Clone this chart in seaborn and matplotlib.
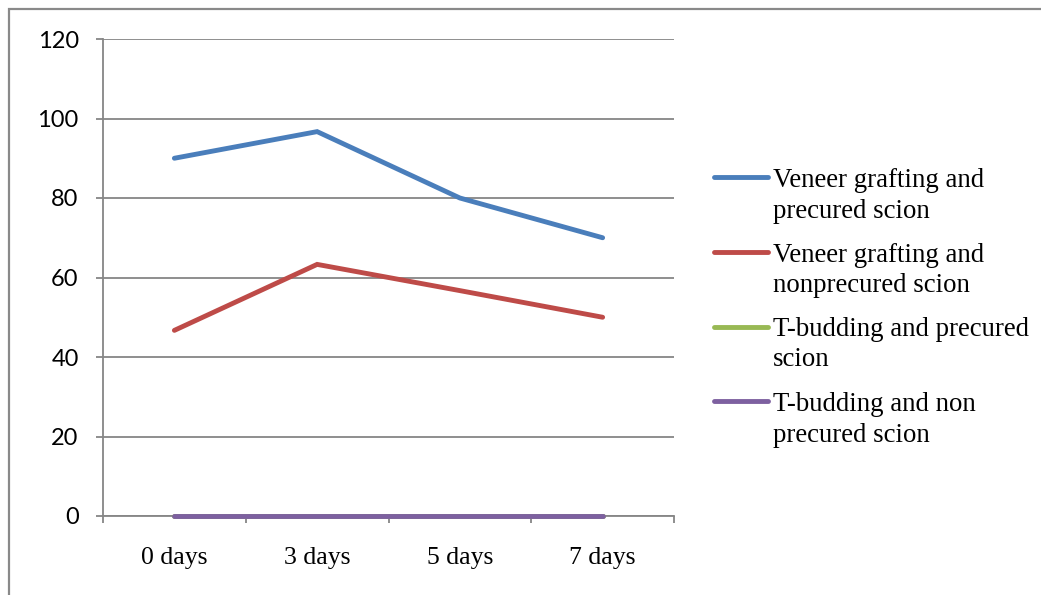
import matplotlib
matplotlib.use("Agg")
import matplotlib.pyplot as plt
from matplotlib.patches import Rectangle
from matplotlib.lines import Line2D
import seaborn as sns
import pandas as pd
import numpy as np

# Grafting success (%) after scion storage
days = ["0 days", "3 days", "5 days", "7 days"]
veneer_precured = [90, 96.7, 80, 70]
veneer_nonprecured = [46.7, 63.3, 56.7, 50]
tbud_precured = [0, 0, 0, 0]
tbud_nonprecured = [0, 0, 0, 0]

series_names = [
    "Veneer grafting and\nprecured scion",
    "Veneer grafting and\nnonprecured scion",
    "T-budding and precured\nscion",
    "T-budding and non\nprecured scion",
]
series_values = [veneer_precured, veneer_nonprecured, tbud_precured, tbud_nonprecured]
colors = ["#4A7EBB", "#BE4B48", "#98B954", "#7D60A0"]
y_ticks = [0, 20, 40, 60, 80, 100, 120]

rows = []
for name, vals in zip(series_names, series_values):
    for i, (d, v) in enumerate(zip(days, vals)):
        rows.append({"pos": i, "day": d, "value": v, "series": name})
df = pd.DataFrame(rows)

sns.set_theme(style="white")
plt.rcParams["font.family"] = ["Liberation Serif", "DejaVu Serif"]

W, H = 1041, 595
LW = 3.5
fig = plt.figure(figsize=(W / 100, H / 100), dpi=100)
ax = fig.add_axes([103 / W, 1 - 516 / H, (674 - 103) / W, (516 - 39) / H])

sns.lineplot(data=df, x="pos", y="value", hue="series", hue_order=series_names,
             palette=colors, linewidth=LW, ax=ax, legend=False, clip_on=False,
             solid_capstyle="round", solid_joinstyle="miter")

ax.set_xlim(-0.5, len(days) - 0.5)
ax.set_ylim(0, 120)
ax.set_xlabel("")
ax.set_ylabel("")

grid_c = "#868686"
for s in ["top", "right"]:
    ax.spines[s].set_visible(False)
for s in ["left", "bottom"]:
    ax.spines[s].set_color(grid_c)
    ax.spines[s].set_linewidth(1.3)
    ax.spines[s].set_zorder(0.5)

ax.set_yticks(y_ticks)
ax.set_yticklabels([str(t) for t in y_ticks], family=["Lato", "DejaVu Sans"], fontsize=17)
ax.yaxis.grid(True, color=grid_c, linewidth=1.3)
ax.set_axisbelow(True)
ax.tick_params(axis="y", which="major", left=True, length=5, width=1.3, color=grid_c,
               pad=12.5, labelcolor="black")

ax.set_xticks(range(len(days)))
ax.set_xticklabels(days, fontsize=18.5)
ax.set_xticks(np.arange(-0.5, len(days)), minor=True)
ax.tick_params(axis="x", which="major", bottom=False, length=0, pad=22, labelcolor="black")
ax.tick_params(axis="x", which="minor", bottom=True, length=5, width=1.3, color=grid_c)

# Legend: key line beside the first text line of each entry
key_y = [177, 252, 327, 401]
base_y = [187, 262, 336, 411]
line_gap = 30.5
for name, c, ky, by in zip(series_names, colors, key_y, base_y):
    fig.add_artist(Line2D([714 / W, 768 / W], [1 - ky / H, 1 - ky / H],
                          transform=fig.transFigure, color=c, linewidth=LW,
                          solid_capstyle="round"))
    for j, part in enumerate(name.split("\n")):
        fig.text(773 / W, 1 - (by + j * line_gap) / H, part, fontsize=19.3,
                 ha="left", va="baseline", color="black")

# Outer chart border
fig.add_artist(Rectangle((9 / W, -0.1), 1.2, 1 - 9 / H + 0.1, transform=fig.transFigure,
                         fill=False, edgecolor="#898989", linewidth=1.6))

fig.savefig("out.png", dpi=100)
